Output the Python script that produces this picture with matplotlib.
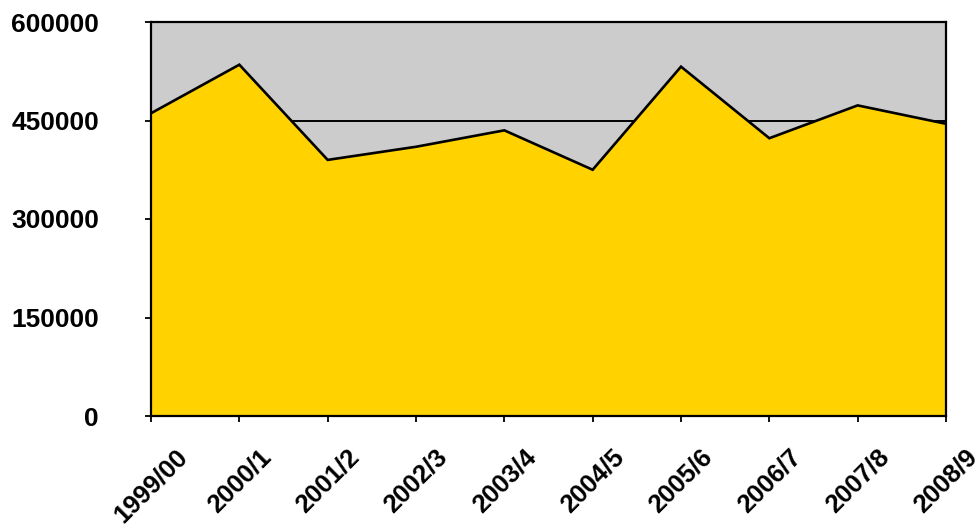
import matplotlib
matplotlib.use("Agg")
import matplotlib.pyplot as plt

categories = ["1999/00", "2000/1", "2001/2", "2002/3", "2003/4",
              "2004/5", "2005/6", "2006/7", "2007/8", "2008/9"]
values = [461000, 535000, 390000, 410000, 435000,
          375000, 532000, 423000, 473000, 445000]
yticks = [0, 150000, 300000, 450000, 600000]

plt.rcParams['font.family'] = ['Liberation Sans', 'DejaVu Sans']
plt.rcParams['font.weight'] = 'bold'

fig = plt.figure(figsize=(9.79, 5.28), dpi=100)
ax = fig.add_axes([151/979, 1 - 416/528, (946-151)/979, (416-22)/528])
ax.set_facecolor('#CCCCCC')

x = list(range(len(categories)))
ax.fill_between(x, values, 0, color='#FFD200', zorder=2, linewidth=0)
ax.plot(x, values, color='black', linewidth=1.9, zorder=3,
        solid_joinstyle='miter')

ax.set_xlim(0, len(categories) - 1)
ax.set_ylim(0, 600000)
ax.set_yticks(yticks)
ax.set_yticklabels([str(v) for v in yticks], fontsize=19, fontweight='bold')
ax.set_xticks(x)
ax.set_xticklabels(categories, fontsize=18.5, fontweight='bold',
                   rotation=45, ha='center')

ax.yaxis.grid(True, color='black', linewidth=1.4, zorder=1)
ax.set_axisbelow(True)

ax.tick_params(axis='y', direction='out', length=4.5, width=1.3, pad=33)
ax.tick_params(axis='x', direction='out', length=4.5, width=1.3, pad=16)
for s in ax.spines.values():
    s.set_color('black')
    s.set_linewidth(1.6)
    s.set_zorder(4)

fig.savefig('out.png', dpi=100)
